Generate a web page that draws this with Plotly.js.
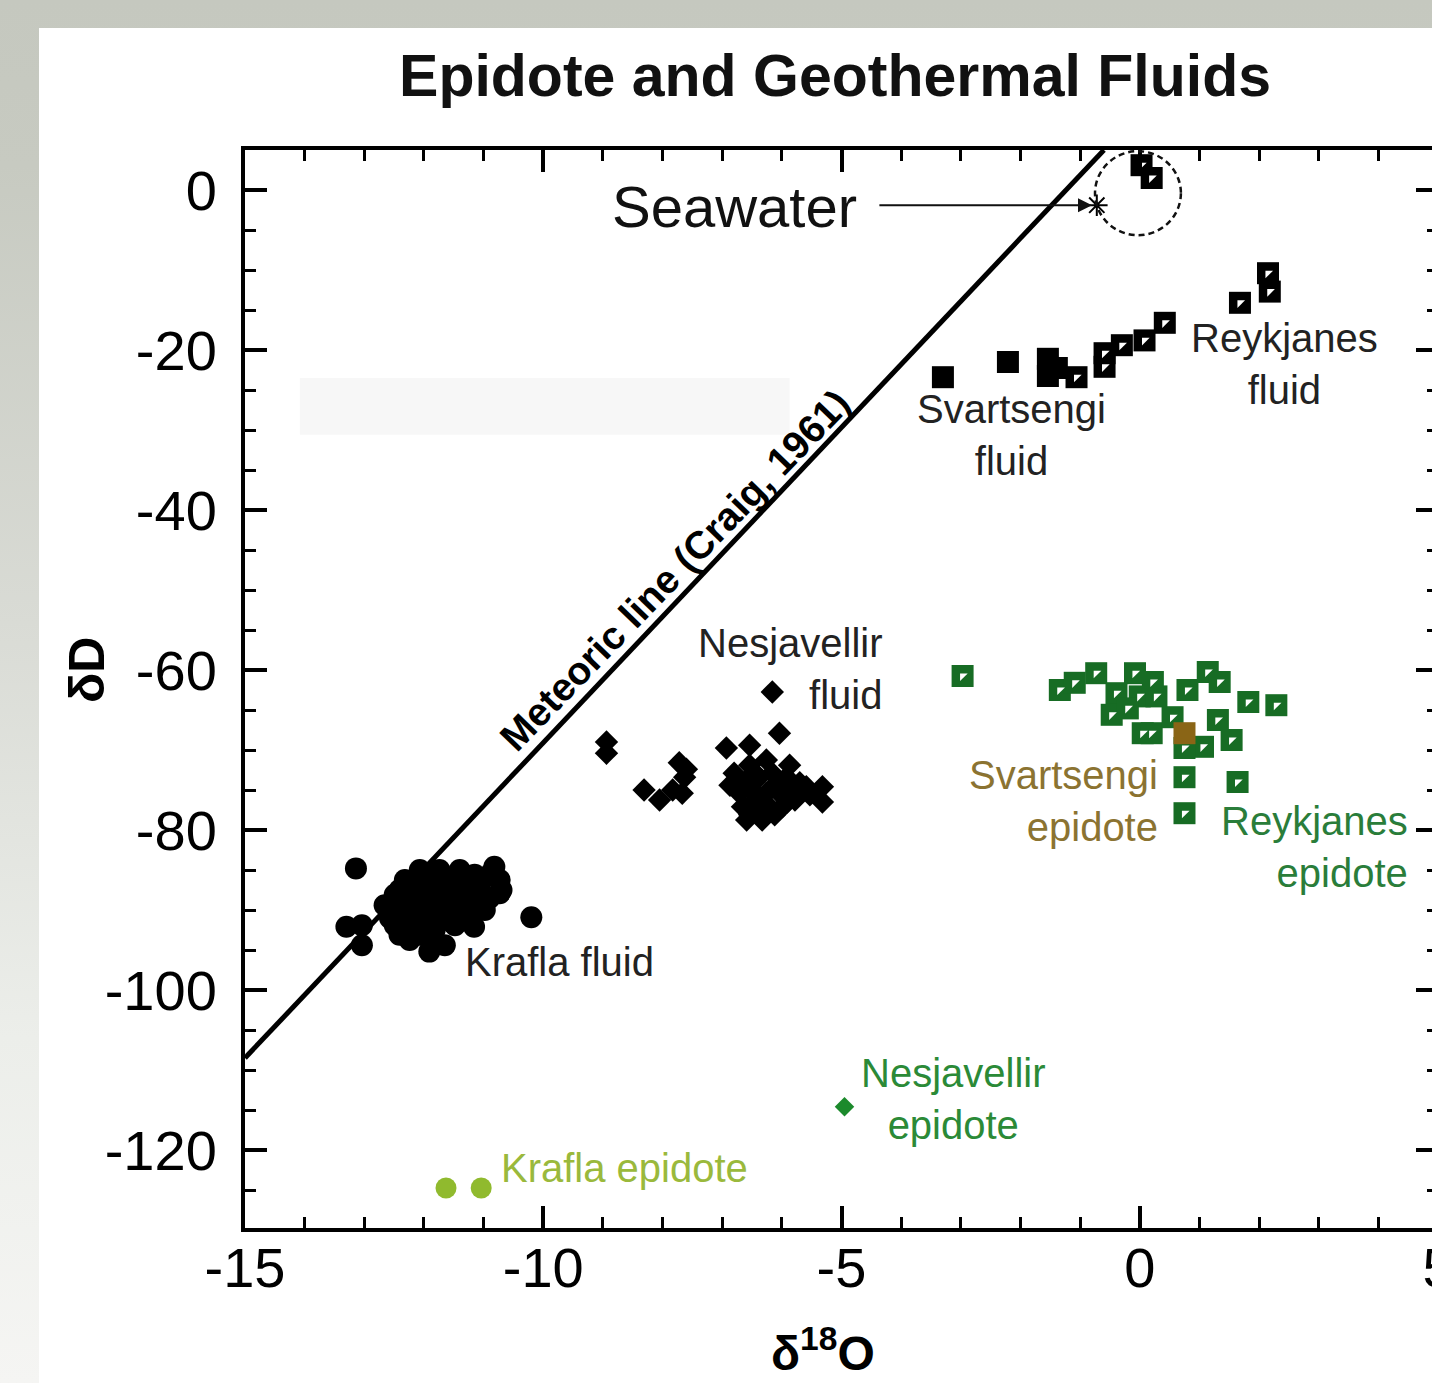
<!DOCTYPE html>
<html>
<head>
<meta charset="utf-8">
<script src="https://cdn.plot.ly/plotly-3.0.1.min.js"></script>
<style>
html, body { margin:0; padding:0; width:1432px; height:1383px; overflow:hidden;
  background: linear-gradient(to bottom, #c5c8bf 0%, #c7cac1 12%, #d9dbd5 45%, #eceeea 75%, #f5f5f3 100%); }
#chart { position:absolute; left:39px; top:28px; width:1420px; height:1355px; background:#fff; }
</style>
</head>
<body>
<div id="chart"></div>
<script>
// ---- Data (δ18O, δD) ----
const xTickVals = [-15, -10, -5, 0, 5];
const xTickText = ['-15', '-10', '-5', '0', '5'];
const yTickVals = [0, -20, -40, -60, -80, -100, -120];
const yTickText = ['0', '-20', '-40', '-60', '-80', '-100', '-120'];

const meteoricX = [-15, -0.6];
const meteoricY = [-108.5, 5];

const kraflaFluidX = [-13.14, -13.3, -13.04, -13.04, -10.82, -10.2, -11.91, -10.7, -11.16,
  -12.07, -11.74, -11.40, -11.15, -12.32, -11.99, -11.65, -11.32, -11.06, -12.49, -12.24,
  -11.90, -11.57, -11.23, -10.90, -12.41, -12.07, -11.74, -11.40, -12.49, -12.15, -11.82,
  -11.48, -12.24, -11.90, -11.65, -12.66, -12.57, -10.73, -10.98, -11.23,
  -12.41, -11.82, -11.49, -12.15, -11.74, -11.40, -12.32, -11.99, -11.65, -11.32,
  -12.32, -11.99, -11.65, -12.07, -12.41, -10.73, -10.90];
const kraflaFluidY = [-84.8, -92.1, -91.9, -94.4, -84.6, -90.9, -95.2, -87.5, -92.1,
  -85.0, -85.0, -85.0, -85.6, -86.25, -86.9, -86.5, -87.25, -86.9, -88.1, -88.75,
  -88.5, -88.75, -88.75, -88.5, -90.25, -90.6, -90.25, -90.6, -91.9, -92.25, -92.5,
  -91.9, -93.75, -93.5, -94.4, -89.4, -91.0, -86.25, -90.0, -91.25,
  -87.5, -85.6, -86.25, -87.9, -87.9, -88.1, -89.4, -89.4, -89.4, -89.75,
  -91.9, -91.25, -91.25, -93.1, -93.1, -87.9, -85.6];

const nesjFluidX = [-6.16, -6.04, -8.94, -8.94, -8.31, -8.05, -7.83, -7.72, -7.63, -7.67,
  -6.93, -6.54, -6.26, -6.80, -6.59, -6.38, -6.16, -5.92, -5.70, -6.71, -6.49, -6.26,
  -6.04, -5.82, -5.59, -6.66, -6.43, -6.21, -5.99, -6.59, -6.33, -5.92, -5.32, -5.32,
  -6.87, -6.54, -6.45, -6.12, -5.78, -6.29, -6.12, -6.54, -5.53, -5.87, -7.60];
const nesjFluidY = [-62.75, -67.9, -69.0, -70.4, -75.0, -76.25, -75.0, -71.6, -73.4, -75.4,
  -69.75, -69.4, -71.25, -72.9, -73.75, -73.4, -72.9, -73.4, -74.1, -75.4, -75.0, -75.4,
  -75.4, -75.0, -74.6, -77.1, -77.5, -77.1, -77.1, -78.75, -78.75, -76.6, -74.6, -76.5,
  -74.4, -71.9, -76.25, -74.4, -76.25, -76.9, -78.1, -78.1, -75.6, -71.9, -72.4];

const svartFluidX = [-3.30, -2.21, -1.54, -1.54, -1.39];
const svartFluidY = [-23.4, -21.5, -21.1, -23.25, -22.25];

const reykFluidX = [0.03, 0.20, -1.06, -0.59, -0.59, -0.30, 0.08, 0.42, 1.68, 2.15, 2.18];
const reykFluidY = [3.1, 1.5, -23.4, -22.1, -20.4, -19.4, -18.8, -16.6, -14.1, -10.4, -12.7];

const reykEpiX = [-2.97, -1.34, -1.09, -0.73, -0.08, -0.39, 0.00, 0.28, 0.22, -0.47, -0.20,
  0.05, 0.20, 0.55, 0.80, 1.14, 1.34, 1.82, 2.29, 1.31, 1.54, 1.06, 0.75, 0.75, 1.64, 0.75];
const reykEpiY = [-60.75, -62.5, -61.6, -60.4, -60.4, -62.9, -63.3, -63.3, -61.5, -65.6, -64.8,
  -67.9, -67.9, -65.9, -62.5, -60.25, -61.5, -64.0, -64.4, -66.25, -68.75, -69.6, -69.75, -73.4, -74.0, -77.9];

const svartEpiX = [0.75];
const svartEpiY = [-67.9];

const nesjEpiX = [-4.95];
const nesjEpiY = [-114.6];

const kraflaEpiX = [-11.63, -11.04];
const kraflaEpiY = [-124.75, -124.75];

const seawaterX = [-0.72];
const seawaterY = [-1.9];

// ---- Styling ----
const FONT = 'Liberation Sans, Arial, Helvetica, sans-serif';
const BLACK = '#000000';
const GREEN_SQ = '#176c24';
const BROWN = '#8a6516';
const NES_GREEN = '#1c8a2c';
const KRAFLA_GREEN = '#90ba2e';

function halfSquares(xs, ys, color) {
  return [
    { x: xs, y: ys, type: 'scatter', mode: 'markers', hoverinfo: 'x+y',
      marker: { symbol: 'square', size: 22, color: color, line: { width: 0 } } },
    { x: xs, y: ys, type: 'scatter', mode: 'markers', hoverinfo: 'skip',
      marker: { symbol: 'triangle-nw', size: 8.5, color: '#ffffff', line: { width: 0 } } }
  ];
}

const traces = [
  { x: meteoricX, y: meteoricY, type: 'scatter', mode: 'lines',
    line: { color: BLACK, width: 5 }, hoverinfo: 'skip' },
  { x: kraflaFluidX, y: kraflaFluidY, type: 'scatter', mode: 'markers',
    marker: { symbol: 'circle', size: 22, color: BLACK } },
  { x: nesjFluidX, y: nesjFluidY, type: 'scatter', mode: 'markers',
    marker: { symbol: 'diamond', size: 18, color: BLACK } },
  { x: svartFluidX, y: svartFluidY, type: 'scatter', mode: 'markers',
    marker: { symbol: 'square', size: 22, color: BLACK } },
  ...halfSquares(reykFluidX, reykFluidY, BLACK),
  ...halfSquares(reykEpiX, reykEpiY, GREEN_SQ),
  { x: svartEpiX, y: svartEpiY, type: 'scatter', mode: 'markers',
    marker: { symbol: 'square', size: 22, color: BROWN } },
  { x: nesjEpiX, y: nesjEpiY, type: 'scatter', mode: 'markers',
    marker: { symbol: 'diamond', size: 15, color: NES_GREEN } },
  { x: kraflaEpiX, y: kraflaEpiY, type: 'scatter', mode: 'markers',
    marker: { symbol: 'circle', size: 21, color: KRAFLA_GREEN } },
  { x: seawaterX, y: seawaterY, type: 'scatter', mode: 'markers',
    marker: { symbol: 'asterisk-open', size: 18, color: BLACK, line: { width: 2, color: BLACK } } }
];

function lab(x, y, text, color, opts) {
  return Object.assign({ x: x, y: y, xref: 'x', yref: 'y', text: text, showarrow: false,
    xanchor: 'center', yanchor: 'middle', align: 'center',
    font: { family: FONT, size: 40, color: color } }, opts || {});
}

const annotations = [
  lab(-6.79, -2.0, 'Seawater', '#111', { font: { family: FONT, size: 58, color: '#111' } }),
  { x: -0.80, y: -1.9, ax: -4.39, ay: -1.9, axref: 'x', ayref: 'y', xref: 'x', yref: 'y',
    text: '', showarrow: true, arrowhead: 2, arrowsize: 1.4, arrowwidth: 2, arrowcolor: '#111' },
  lab(-7.8, -47.5, 'Meteoric line (Craig, 1961)', '#000',
    { textangle: -46, font: { family: FONT, size: 39, color: '#000', weight: 'bold' } }),
  lab(-2.15, -30.6, 'Svartsengi<br>fluid', '#222'),
  lab(2.43, -21.7, 'Reykjanes<br>fluid', '#222'),
  lab(-4.27, -59.9, 'Nesjavellir<br>fluid', '#222', { xanchor: 'right', align: 'right' }),
  lab(-9.73, -96.5, 'Krafla fluid', '#222'),
  lab(0.335, -76.4, 'Svartsengi<br>epidote', '#8b7331', { xanchor: 'right', align: 'right' }),
  lab(4.53, -82.1, 'Reykjanes<br>epidote', '#2a7d3a', { xanchor: 'right', align: 'right' }),
  lab(-3.13, -113.6, 'Nesjavellir<br>epidote', '#2b8a37'),
  lab(-8.63, -122.25, 'Krafla epidote', '#9ab93c'),
  // axis titles
  { xref: 'paper', yref: 'paper', x: -0.1324, y: (670 - 150) / -1078 + 1,
    text: 'δD', textangle: -90, showarrow: false, xanchor: 'center', yanchor: 'middle',
    font: { family: FONT, size: 50, color: '#000', weight: 'bold' } },
  { xref: 'paper', yref: 'paper', x: (823 - 245) / 1193, y: -(1350 - 1228) / 1078,
    text: 'δ<sup>18</sup>O', showarrow: false, xanchor: 'center', yanchor: 'middle',
    font: { family: FONT, size: 48, color: '#000', weight: 'bold' } }
];

const shapes = [
  { type: 'rect', xref: 'x', yref: 'y', x0: -14.08, x1: -5.87, y0: -30.6, y1: -23.5,
    fillcolor: '#f7f7f7', line: { width: 0 }, layer: 'below' },
  { type: 'circle', xref: 'x', yref: 'y', x0: -0.75, x1: 0.69, y0: -5.65, y1: 4.85,
    line: { color: '#111', width: 2.5, dash: '6px,4px' } }
];

const axisCommon = {
  showline: true, linewidth: 4, linecolor: BLACK, mirror: 'allticks',
  ticks: 'inside', ticklen: 22, tickwidth: 4, tickcolor: BLACK,
  showgrid: false, zeroline: false, tickmode: 'array',
  tickfont: { family: FONT, size: 56, color: '#000' }
};

const layout = {
  width: 1420, height: 1355,
  margin: { l: 206, r: 21, t: 122, b: 155 },
  paper_bgcolor: '#ffffff', plot_bgcolor: '#ffffff',
  showlegend: false,
  title: { text: 'Epidote and Geothermal Fluids', xref: 'container', yref: 'container',
    x: 0.5606, xanchor: 'center', y: 0.9653, yanchor: 'middle',
    font: { family: FONT, size: 59, color: '#111', weight: 'bold' } },
  xaxis: Object.assign({}, axisCommon, {
    range: [-15, 5], tickvals: xTickVals, ticktext: xTickText, ticklabelstandoff: -12,
    minor: { tick0: 0, dtick: 1, ticks: 'inside', ticklen: 11, tickwidth: 3, tickcolor: BLACK }
  }),
  yaxis: Object.assign({}, axisCommon, {
    range: [-129.75, 5], tickvals: yTickVals, ticktext: yTickText, ticklabelstandoff: 13,
    minor: { tick0: 0, dtick: 5, ticks: 'inside', ticklen: 11, tickwidth: 3, tickcolor: BLACK }
  }),
  annotations: annotations,
  shapes: shapes
};

Plotly.newPlot('chart', traces, layout, { displayModeBar: false, staticPlot: true });
</script>
</body>
</html>
